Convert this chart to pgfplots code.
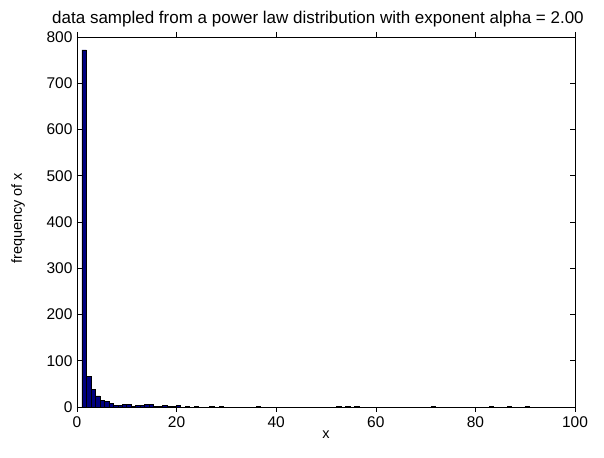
\documentclass[border=0pt]{standalone}
\usepackage{pgfplots}
\pgfplotsset{compat=1.18}
\usetikzlibrary{calc}
\usepackage{fontspec}
\setmainfont{Liberation Sans}
\definecolor{matnavy}{rgb}{0,0,0.5}
\begin{document}
\begin{tikzpicture}
\begin{axis}[
  scale only axis,
  width=498pt, height=370pt,
  xmin=0, xmax=100, ymin=0, ymax=800,
  xtick={0,20,40,60,80,100},
  ytick={0,100,200,300,400,500,600,700,800},
  tick align=inside,
  major tick length=5pt,
  tick style={black, line width=0.6pt},
  axis line style={black, line width=0.8pt},
  /pgf/number format/assume math mode=true,
  tick label style={font=\fontsize{15.5}{17}\selectfont},
  yticklabel style={xshift=-1pt},
  xticklabel style={yshift=-1pt},
  xlabel={x}, ylabel={frequency of x},
  label style={font=\fontsize{14.5}{16}\selectfont},
  xlabel style={at={(axis description cs:0.5,-0.076)}, anchor=center},
  ylabel style={at={(axis description cs:-0.118,0.51)}, anchor=center},
  title={data sampled from a power law distribution with exponent alpha = 2.00},
  title style={font=\fontsize{17}{20}\selectfont, at={(axis description cs:0.5,1)}, anchor=base, yshift=7pt, xshift=-8pt},
  ybar, bar width=0.9, bar shift=0pt,
]
\addplot[fill=matnavy, draw=black, line width=0.6pt] coordinates {
(1.45,772) (2.35,66) (3.25,38) (4.15,24) (5.05,15) (5.95,12) (6.85,7)
(7.75,4) (8.65,4) (9.55,6) (10.45,6) (11.35,2) (12.25,3) (13.15,4)
(14.05,5) (14.95,5) (15.85,2) (16.75,1) (17.65,3) (18.55,1) (19.45,2)
(20.35,4) (22.15,1) (24.0,1) (27.1,2) (29.0,2) (36.4,1) (52.6,1)
(54.4,1) (56.2,2) (71.5,1) (83.2,1) (86.8,1) (90.4,1)
};
\end{axis}
\pgfresetboundingbox
\useasboundingbox (current axis.south west) ++(-77pt,-51pt) rectangle ($(current axis.north east)+(29pt,37pt)$);
\end{tikzpicture}
\end{document}
